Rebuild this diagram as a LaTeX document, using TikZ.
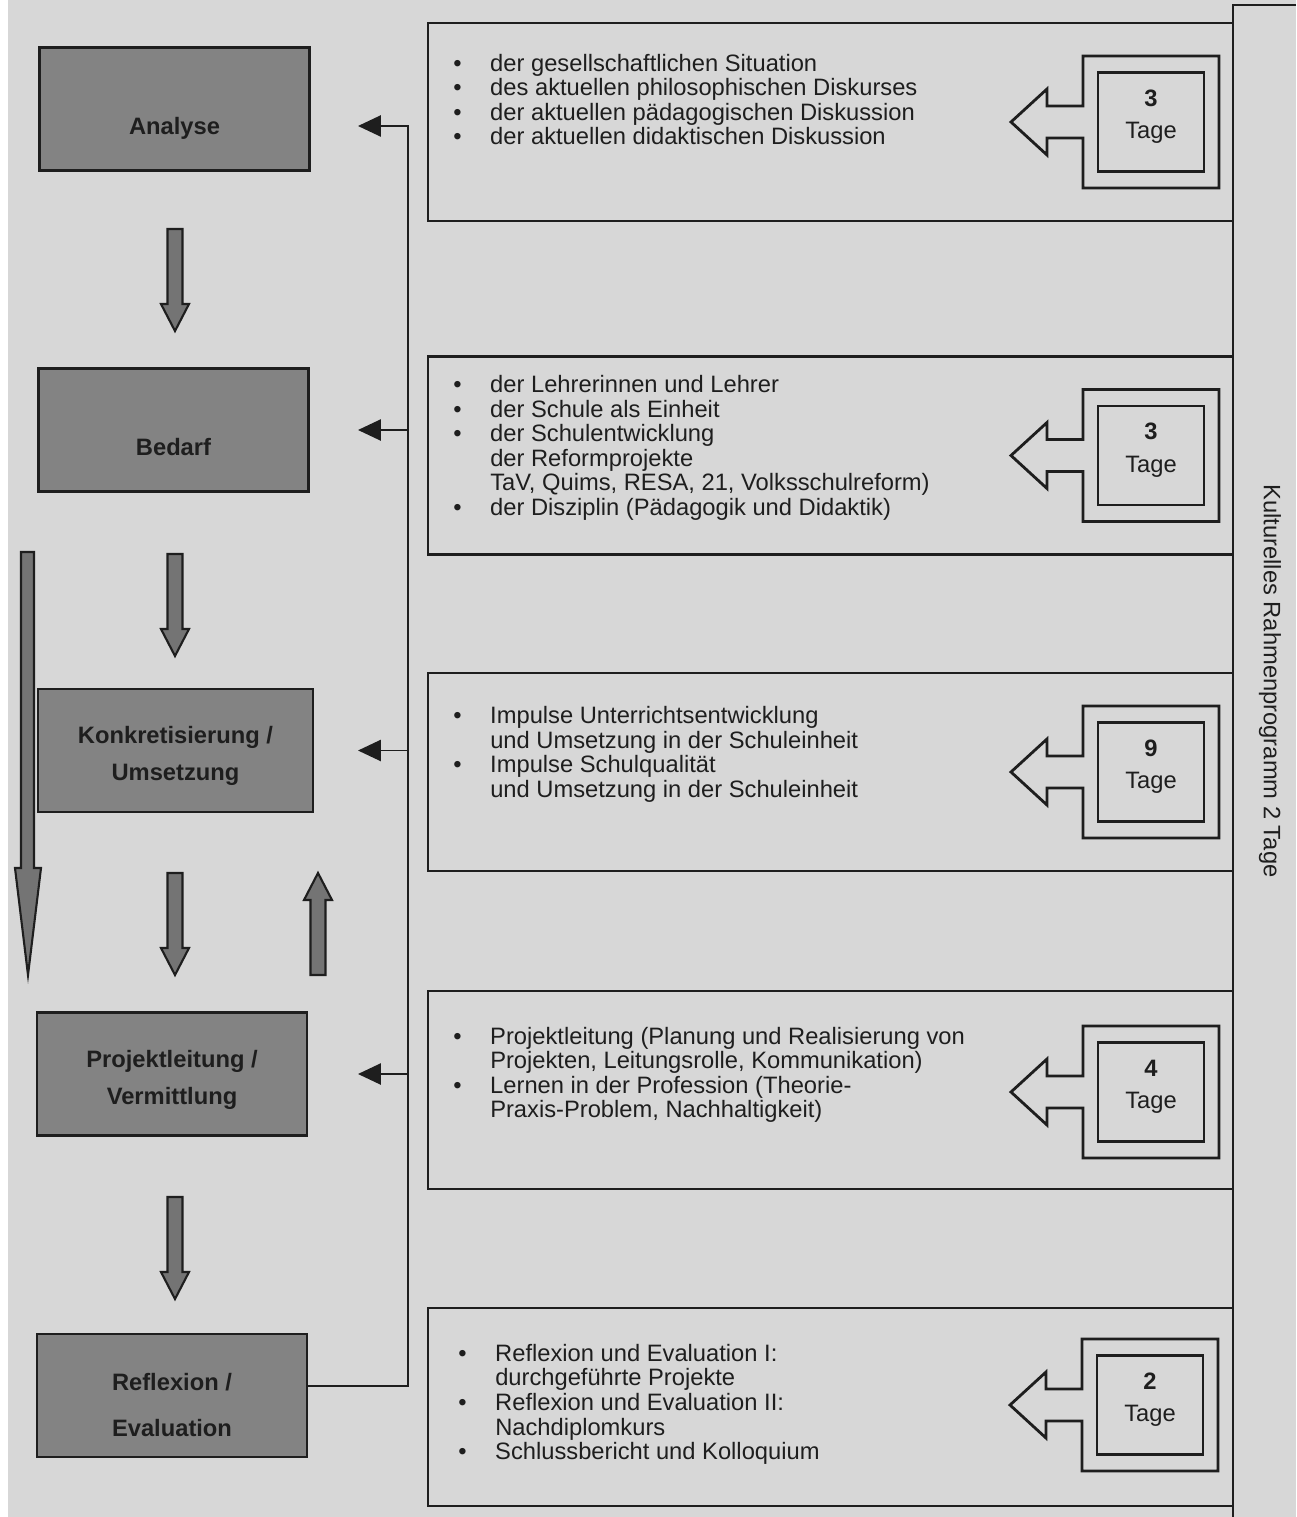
\documentclass[tikz,border=0pt]{standalone}
\usepackage{fontspec}
\setmainfont{Liberation Sans}
\usetikzlibrary{arrows.meta}

\definecolor{paper}{HTML}{D7D7D7}
\definecolor{phasegray}{HTML}{838383}
\definecolor{arrowgray}{HTML}{747474}
\definecolor{ink}{HTML}{1E1E1E}

\tikzset{
  phase/.style={draw=ink,line width=1.5pt,fill=phasegray,minimum width=5.4cm,minimum height=2.46cm,
    align=center,text=ink,font=\bfseries\fontsize{13.5}{16}\selectfont},
  panel/.style={draw=ink,line width=1.5pt,minimum width=16.1cm,minimum height=3.96cm},
  items/.style={anchor=west,inner sep=0pt,align=left,text=ink},
  daybox/.style={draw=ink,line width=1.6pt,minimum width=2.12cm,minimum height=1.98cm,
    align=center,text=ink,font=\fontsize{13.5}{18.5}\selectfont},
  callout/.style={draw=ink,line width=1.6pt},
  block/.style={draw=ink,line width=1.2pt,fill=arrowgray},
  link/.style={draw=ink,line width=1.1pt,-{Triangle[length=13pt,width=12pt]}},
  tage/.pic={
    \draw[callout] (-68,-16) -- (-104,-16) -- (-104,-33) -- (-140,0) -- (-104,33) -- (-104,16)
      -- (-68,16) -- (-68,66) -- (68,66) -- (68,-66) -- (-68,-66) -- cycle;
    \node[daybox,text depth=9pt] (-box) at (0,0) {\textbf{#1}\\Tage};
  },
  blockdown/.pic={
    \draw[block] (-7.5,0) -- (-7.5,75) -- (-14,75) -- (0,102) -- (14,75) -- (7.5,75) -- (7.5,0) -- cycle;
  }
}

\begin{document}
\begin{tikzpicture}[x=0.02cm,y=-0.02cm,font=\fontsize{13.5}{14}\selectfont]
	\useasboundingbox (0,0) rectangle (1296,1517);
	\fill[paper] (8,0) rectangle (1296,1517); %page

	%block arrows
	\pic at (175,229) {blockdown}; %ana-bed
	\pic at (175,554) {blockdown}; %bed-kon
	\pic at (175,873) {blockdown}; %kon-pro
	\pic at (175,1197) {blockdown}; %pro-ref
	\pic[rotate=180] at (318,975) {blockdown}; %back up
	\draw[block] (21,552) -- (21,868) -- (15,868) -- (28,975) -- (41,868) -- (34,868) -- (34,552) -- cycle; %long arrow

	%phases
	\node[phase,text height=31pt,text depth=2pt] (ana) at (174.5,109) {Analyse};
	\node[phase,text height=31pt,text depth=2pt] (bed) at (173.5,430) {Bedarf};
	\node[phase,minimum width=5.5cm,text height=37pt] (kon) at (175.5,750.5) {Konkretisierung /\\[5pt]Umsetzung};
	\node[phase,text height=37pt] (pro) at (172,1074) {Projektleitung /\\[5pt]Vermittlung};
	\node[phase,text height=46.5pt] (ref) at (172,1395.5) {Reflexion /\\[10pt]Evaluation};

	%right column
	\draw[ink,line width=1.5pt] (1296,5) -- (1233,5) -- (1233,1517);
	\node[rotate=-90,text=ink] (kultur) at (1270,681) {Kulturelles Rahmenprogramm 2 Tage};

	%panels
	\node[panel] (p1) at (830.5,122) {};
	\node[panel] (p2) at (830.5,455.5) {};
	\node[panel] (p3) at (830.5,772) {};
	\node[panel] (p4) at (830.5,1090) {};
	\node[panel] (p5) at (830.5,1407) {};

	%panel texts
	\node[items] (i1) at (453,103) {\begin{tabular}{@{}p{21pt}@{}l@{}}
		\textbullet & der gesellschaftlichen Situation\\
		\textbullet & des aktuellen philosophischen Diskurses\\
		\textbullet & der aktuellen pädagogischen Diskussion\\
		\textbullet & der aktuellen didaktischen Diskussion
	\end{tabular}};
	\node[items] (i2) at (453,449) {\begin{tabular}{@{}p{21pt}@{}l@{}}
		\textbullet & der Lehrerinnen und Lehrer\\
		\textbullet & der Schule als Einheit\\
		\textbullet & der Schulentwicklung\\
		& der Reformprojekte\\
		& TaV, Quims, RESA, 21, Volksschulreform)\\
		\textbullet & der Disziplin (Pädagogik und Didaktik)
	\end{tabular}};
	\node[items] (i3) at (453,755.5) {\begin{tabular}{@{}p{21pt}@{}l@{}}
		\textbullet & Impulse Unterrichtsentwicklung\\
		& und Umsetzung in der Schuleinheit\\
		\textbullet & Impulse Schulqualität\\
		& und Umsetzung in der Schuleinheit
	\end{tabular}};
	\node[items] (i4) at (453,1076) {\begin{tabular}{@{}p{21pt}@{}l@{}}
		\textbullet & Projektleitung (Planung und Realisierung von\\
		& Projekten, Leitungsrolle, Kommunikation)\\
		\textbullet & Lernen in der Profession (Theorie-\\
		& Praxis-Problem, Nachhaltigkeit)
	\end{tabular}};
	\node[items] (i5) at (458,1405.5) {\begin{tabular}{@{}p{21pt}@{}l@{}}
		\textbullet & Reflexion und Evaluation I:\\
		& durchgeführte Projekte\\
		\textbullet & Reflexion und Evaluation II:\\
		& Nachdiplomkurs\\
		\textbullet & Schlussbericht und Kolloquium
	\end{tabular}};

	%days
	\pic (d1) at (1151,122) {tage=3};
	\pic (d2) at (1151,455.5) {tage=3};
	\pic (d3) at (1151,772) {tage=9};
	\pic (d4) at (1151,1092) {tage=4};
	\pic (d5) at (1150,1405) {tage=2};

	%links
	\coordinate (bus) at (408,126);
	\draw[link] (ref.east) ++(0,-9.5) -| (bus) -- ++(-50,0); %to ana
	\draw[link] (bus |- bed.east) -- ++(-50,0); %to bed
	\draw[link] (bus |- kon.east) -- ++(-50,0); %to kon
	\draw[link] (bus |- pro.east) -- ++(-50,0); %to pro
\end{tikzpicture}
\end{document}
